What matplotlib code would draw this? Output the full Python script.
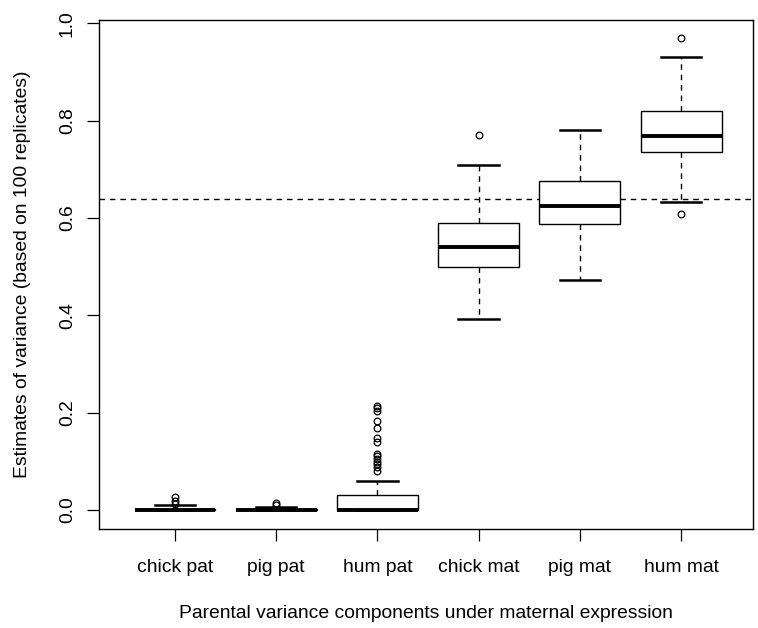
import matplotlib.pyplot as plt

# Tên các nhóm
labels = ['chick pat', 'pig pat', 'hum pat', 'chick mat', 'pig mat', 'hum mat']

# Thống kê hộp
whislo = [0.0, 0.0, 0.0, 0.392, 0.473, 0.633]
q1 = [0.0, 0.0, 0.0, 0.499, 0.588, 0.736]
med = [0.0005, 0.0, 0.0, 0.540, 0.625, 0.768]
q3 = [0.003, 0.002, 0.031, 0.590, 0.677, 0.820]
whishi = [0.011, 0.007, 0.060, 0.709, 0.781, 0.931]
fliers = [
    [0.013, 0.018, 0.026],
    [0.011, 0.015],
    [0.080, 0.088, 0.094, 0.099, 0.105, 0.111, 0.116, 0.139, 0.147,
     0.168, 0.183, 0.203, 0.209, 0.214],
    [0.771],
    [],
    [0.608, 0.970],
]
ref_line = 0.638

stats = []
for i in range(len(labels)):
    stats.append(dict(whislo=whislo[i], q1=q1[i], med=med[i], q3=q3[i],
                      whishi=whishi[i], fliers=fliers[i], label=labels[i]))

plt.rcParams['font.family'] = ['Liberation Sans', 'DejaVu Sans']

fig = plt.figure(figsize=(7.58, 6.28), dpi=100)
ax = fig.add_axes([99/758, 1 - 529/628, (753 - 99)/758, (529 - 20)/628])

ax.axhline(ref_line, color='black', lw=1.0, linestyle=(0, (4, 3.5)), zorder=1)

ax.bxp(stats, positions=range(1, 7), widths=0.8, patch_artist=True,
       boxprops=dict(facecolor='white', edgecolor='black', linewidth=1.0),
       medianprops=dict(color='black', linewidth=2.8, solid_capstyle='butt'),
       whiskerprops=dict(color='black', linewidth=1.0, linestyle=(0, (4, 3.5))),
       capprops=dict(color='black', linewidth=1.8),
       flierprops=dict(marker='o', markerfacecolor='none', markeredgecolor='black',
                       markersize=4.8, markeredgewidth=0.9),
       capwidths=0.4, zorder=2)

ax.set_xlim(0.249, 6.711)
ax.set_ylim(-0.039, 1.0068)
ax.set_yticks([0.0, 0.2, 0.4, 0.6, 0.8, 1.0])
ax.set_yticklabels(['0.0', '0.2', '0.4', '0.6', '0.8', '1.0'], rotation=90, va='center')
ax.set_xticks(range(1, 7))
ax.set_xticklabels(labels)
ax.tick_params(axis='both', length=8.6, width=0.9, labelsize=13.9, color='black')
ax.tick_params(axis='x', pad=13)
ax.tick_params(axis='y', pad=8)
for s in ax.spines.values():
    s.set_linewidth(1.0)

fig.text(426/758, 1 - 613/628, 'Parental variance components under maternal expression',
         ha='center', va='center', fontsize=13.9)
fig.text(23/758, 1 - 274.5/628, 'Estimates of variance (based on 100 replicates)',
         ha='center', va='center', rotation=90, fontsize=13.9)

fig.savefig('out.png', dpi=100)
